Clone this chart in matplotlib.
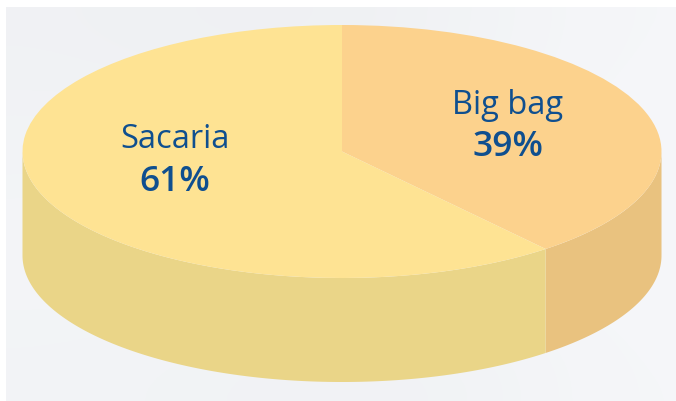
import numpy as np
import matplotlib
matplotlib.use("Agg")
import matplotlib.pyplot as plt
from matplotlib.patches import Polygon
from matplotlib.transforms import Affine2D
from matplotlib.colors import LinearSegmentedColormap

categories = ["Big bag", "Sacaria"]
shares = [39, 61]
top_colors = ["#FCD28D", "#FEE393"]
side_colors = ["#E9C27F", "#EAD588"]

W, H = 676, 401
CX, CY, RX, RY, DEPTH = 342, 151.5, 319.5, 126.5, 104

fig = plt.figure(figsize=(W / 100, H / 100), dpi=100, facecolor="white")
ax = fig.add_axes([0, 0, 1, 1])

# Soft grey backdrop panel
shade = np.array([[0.35, 0.2, 0.2, 0.55, 0.9],
                  [0.6, 0.7, 0.7, 0.8, 1.0],
                  [0.75, 0.85, 0.9, 0.95, 1.0],
                  [0.6, 0.5, 0.4, 0.5, 0.9]])
cmap = LinearSegmentedColormap.from_list("panel", ["#EDEFF1", "#F6F7FA"])
ax.imshow(shade, extent=(6, W, 401, 7), cmap=cmap, vmin=0, vmax=1,
          interpolation="bicubic", aspect="auto", zorder=0)

# Flat pie top, squashed into an ellipse
wedges, _ = ax.pie(shares, colors=top_colors, startangle=90, counterclock=False,
                   wedgeprops={"linewidth": 0})
squash = Affine2D().scale(RX, -RY).translate(CX, CY) + ax.transData
for w in wedges:
    w.set_transform(squash)
    w.set_zorder(3)

# Extruded wall along the front half of the ellipse
start = 0.0
for share, colour in zip(shares, side_colors):
    stop = start + share / sum(shares) * 2 * np.pi
    lo, hi = max(start, np.pi / 2), min(stop, 3 * np.pi / 2)
    if hi > lo:
        t = np.linspace(lo, hi, 200)
        x = CX + RX * np.sin(t)
        y = CY - RY * np.cos(t)
        pts = np.r_[np.c_[x, y], np.c_[x[::-1], y[::-1] + DEPTH]]
        ax.add_patch(Polygon(pts, closed=True, facecolor=colour, edgecolor="none", zorder=2))
    start = stop

ax.set_xlim(0, W)
ax.set_ylim(H, 0)
ax.set_aspect("auto")
ax.axis("off")

# Slice captions
ink = "#0F4F8F"
positions = {"Big bag": (508, 105, 147), "Sacaria": (175, 139, 182)}
for name, share in zip(categories, shares):
    px, y1, y2 = positions[name]
    ax.text(px, y1, name, ha="center", va="center", fontsize=23.5, color=ink,
            family="Open Sans", zorder=5)
    ax.text(px, y2, f"{share}%", ha="center", va="center", fontsize=25.5, color=ink,
            family="Open Sans", fontweight=600, zorder=5)

fig.savefig("out.png", dpi=100, facecolor="white")
